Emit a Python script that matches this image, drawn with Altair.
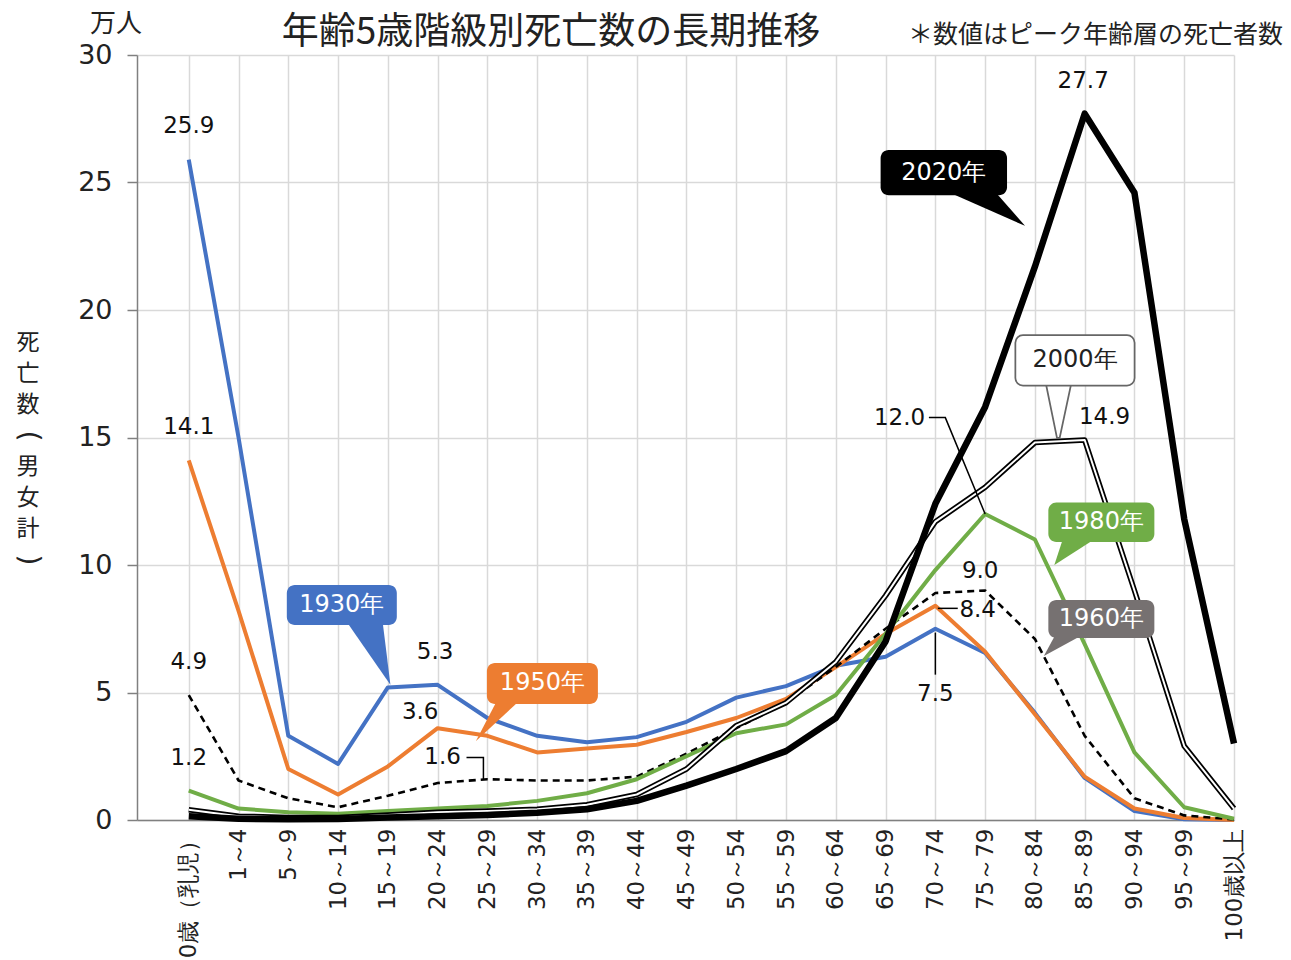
import json
import altair as alt
import pandas as pd

# ---------------- data ----------------
categories = ["0歳（乳児）", "1～4", "5～9", "10～14", "15～19", "20～24", "25～29",
              "30～34", "35～39", "40～44", "45～49", "50～54", "55～59", "60～64",
              "65～69", "70～74", "75～79", "80～84", "85～89", "90～94", "95～99", "100歳以上"]

v1930 = [25.9, 15.0, 3.3, 2.2, 5.2, 5.3, 4.0, 3.3, 3.05, 3.25, 3.85, 4.8, 5.25, 6.05,
         6.4, 7.5, 6.55, 4.2, 1.65, 0.35, 0.03, 0.0]
v1950 = [14.1, 8.2, 2.0, 1.0, 2.1, 3.6, 3.3, 2.65, 2.8, 2.95, 3.45, 4.0, 4.75, 6.0,
         7.3, 8.4, 6.6, 4.15, 1.7, 0.45, 0.08, 0.0]
v1960 = [4.9, 1.55, 0.85, 0.5, 0.95, 1.45, 1.6, 1.55, 1.55, 1.7, 2.6, 3.6, 4.6, 6.0,
         7.5, 8.9, 9.0, 7.1, 3.3, 0.85, 0.18, 0.02]
v1980 = [1.15, 0.45, 0.3, 0.25, 0.35, 0.45, 0.55, 0.75, 1.05, 1.6, 2.5, 3.4, 3.75, 4.9,
         7.3, 9.8, 12.0, 11.0, 6.9, 2.65, 0.5, 0.05]
v2000 = [0.4, 0.15, 0.1, 0.1, 0.2, 0.3, 0.35, 0.42, 0.6, 1.0, 2.0, 3.7, 4.6, 6.2,
         8.8, 11.7, 13.05, 14.8, 14.9, 9.0, 2.9, 0.45]
v2020 = [0.15, 0.05, 0.03, 0.04, 0.1, 0.15, 0.2, 0.28, 0.42, 0.75, 1.35, 2.0, 2.7, 4.0,
         7.0, 12.4, 16.2, 21.7, 27.7, 24.6, 11.8, 3.0]

series = {"1930年": v1930, "1950年": v1950, "1960年": v1960,
          "1980年": v1980, "2000年": v2000, "2020年": v2020}

rows = []
for name, vals in series.items():
    for i, v in enumerate(vals):
        rows.append({"series": name, "idx": i, "cat": categories[i], "value": v})
df = pd.DataFrame(rows)

# peak value annotations (text, x index, y value)
peak_labels = [("25.9", 0.0, 27.2), ("14.1", 0.0, 15.4), ("4.9", 0.0, 6.2), ("1.2", 0.0, 2.45),
               ("5.3", 4.95, 6.6), ("3.6", 4.65, 4.25), ("1.6", 5.1, 2.47),
               ("27.7", 17.97, 29.0), ("14.9", 18.4, 15.8), ("12.0", 14.28, 15.78),
               ("9.0", 15.9, 9.75), ("8.4", 15.85, 8.25), ("7.5", 15.0, 4.95)]

# leader lines: (group, [(x, y), ...])
leaders = [("l16", [(5.58, 2.45), (5.92, 2.45), (5.92, 1.6)]),
           ("l12", [(14.87, 15.78), (15.2, 15.78), (16.0, 12.0)]),
           ("l84", [(15.05, 8.3), (15.45, 8.3)]),
           ("l75", [(15.0, 7.35), (15.0, 5.7)])]

# callouts: name, box x1,x2,y1,y2, fill, text color, pointer base x1,x2 (at y1), tip x,y
callouts = [
    ("1930年", 1.97, 4.18, 7.65, 9.22, "#4472C4", "white", 3.2, 3.9, 4.05, 5.3),
    ("1950年", 5.99, 8.22, 4.55, 6.16, "#ED7D31", "white", 6.17, 6.6, 5.77, 3.1),
    ("1980年", 17.27, 19.4, 10.9, 12.45, "#70AD47", "white", 17.55, 18.15, 17.39, 10.0),
    ("1960年", 17.27, 19.4, 7.14, 8.63, "#767171", "white", 17.39, 17.89, 17.18, 6.43),
    ("2020年", 13.9, 16.44, 24.5, 26.27, "#000000", "white", 15.35, 16.24, 16.8, 23.3),
]
callout_2000 = ("2000年", 16.64, 18.97, 17.1, 18.95, 17.25, 17.7, 17.47, 15.05)

y_title_chars = ["死", "亡", "数", "(", "男", "女", "計", ")"]

# ---------------- scales / axes ----------------
JP = "Noto Sans CJK JP"
NUM = "DejaVu Sans"

XS = alt.Scale(domain=[-1.04, 21], nice=False, zero=False)
YS = alt.Scale(domain=[0, 30], nice=False, zero=True)

label_expr = "[" + ",".join(json.dumps(c, ensure_ascii=False) for c in categories) + "][datum.value]"

XAXIS = alt.Axis(values=list(range(len(categories))), labelExpr=label_expr, labelAngle=270,
                 labelFont=NUM, labelFontSize=23, labelColor="#222222", labelPadding=8,
                 labelFlush=False, labelOverlap=False, tickSize=0, grid=True,
                 gridColor="#d9d9d9", gridWidth=1.5, domainColor="#808080", domainWidth=1.5,
                 title=None)
YAXIS = alt.Axis(values=[0, 5, 10, 15, 20, 25, 30], labelFont=NUM, labelFontSize=27,
                 labelColor="#222222", tickSize=10, tickColor="#808080", tickWidth=1.5,
                 labelPadding=15, grid=True, gridColor="#d9d9d9", gridWidth=1.5,
                 domainColor="#808080", domainWidth=1.5, title=None)


def X(field):
    return alt.X(field, type="quantitative", scale=XS, axis=XAXIS, title=None)


def Y(field):
    return alt.Y(field, type="quantitative", scale=YS, axis=YAXIS, title=None)


base = alt.Chart(df)


def line_layer(name, **kw):
    return base.transform_filter(alt.datum.series == name).mark_line(
        strokeJoin="round", strokeCap="butt", **kw).encode(x=X("idx"), y=Y("value"))


layers = [
    line_layer("1930年", color="#4472C4", strokeWidth=4),
    line_layer("1950年", color="#ED7D31", strokeWidth=4),
    line_layer("1960年", color="#000000", strokeWidth=2.6, strokeDash=[7, 5]),
    line_layer("1980年", color="#70AD47", strokeWidth=4),
    line_layer("2000年", color="#000000", strokeWidth=5.5),
    line_layer("2000年", color="#ffffff", strokeWidth=2),
    line_layer("2020年", color="#000000", strokeWidth=6.5),
]

# leader lines
lrows = []
for g, pts in leaders:
    for k, (lx, ly) in enumerate(pts):
        lrows.append({"g": g, "o": k, "x": lx, "y": ly})
layers.append(alt.Chart(pd.DataFrame(lrows)).mark_line(color="#000000", strokeWidth=1.5).encode(
    x=X("x"), y=Y("y"), detail="g:N", order="o:Q"))

# peak labels
pl = pd.DataFrame(peak_labels, columns=["t", "x", "y"])
layers.append(alt.Chart(pl).mark_text(font=NUM, fontSize=23, color="#111111",
                                      baseline="middle", align="center").encode(
    x=X("x"), y=Y("y"), text="t:N"))

# callout pointers and boxes
prow, brow = [], []
for (nm, x1, x2, y1, y2, fill, tc, bx1, bx2, tx, ty) in callouts:
    prow.append({"n": nm, "y": y1 + 0.05, "x": bx1, "x2": bx2, "f": fill})
    prow.append({"n": nm, "y": ty, "x": tx, "x2": tx + 0.001, "f": fill})
    brow.append({"n": nm, "x": x1, "x2": x2, "y": y1, "y2": y2, "f": fill, "tc": tc,
                 "cx": (x1 + x2) / 2, "cy": (y1 + y2) / 2})
pdf = pd.DataFrame(prow)
bdf = pd.DataFrame(brow)
layers.append(alt.Chart(pdf).mark_area(orient="horizontal").encode(
    y=Y("y"), x=X("x"), x2="x2:Q", detail="n:N", fill=alt.Fill("f:N", scale=None)))
layers.append(alt.Chart(bdf).mark_rect(cornerRadius=8).encode(
    x=X("x"), x2="x2:Q", y=Y("y"), y2="y2:Q", fill=alt.Fill("f:N", scale=None)))
layers.append(alt.Chart(bdf).mark_text(font=NUM, fontSize=24, baseline="middle",
                                       align="center").encode(
    x=X("cx"), y=Y("cy"), text="n:N", color=alt.Color("tc:N", scale=None)))

# 2000 callout (double outline like its series)
nm, x1, x2, y1, y2, bx1, bx2, tx, ty = callout_2000
p2 = pd.DataFrame([{"n": nm, "y": y1 + 0.05, "x": bx1, "x2": bx2},
                   {"n": nm, "y": ty, "x": tx, "x2": tx + 0.001}])
b2 = pd.DataFrame([{"n": nm, "x": x1, "x2": x2, "y": y1, "y2": y2,
                    "cx": (x1 + x2) / 2, "cy": (y1 + y2) / 2}])
layers.append(alt.Chart(p2).mark_area(orient="horizontal", fill="white", stroke="#666666",
                                      strokeWidth=5).encode(y=Y("y"), x=X("x"), x2="x2:Q"))
layers.append(alt.Chart(p2).mark_area(orient="horizontal", fill="white", stroke="white",
                                      strokeWidth=1.5).encode(y=Y("y"), x=X("x"), x2="x2:Q"))
layers.append(alt.Chart(b2).mark_rect(cornerRadius=6, fill="white", stroke="#666666",
                                      strokeWidth=5).encode(x=X("x"), x2="x2:Q", y=Y("y"), y2="y2:Q"))
layers.append(alt.Chart(b2).mark_rect(cornerRadius=6, fill="white", stroke="white",
                                      strokeWidth=1.5).encode(x=X("x"), x2="x2:Q", y=Y("y"), y2="y2:Q"))
layers.append(alt.Chart(b2).mark_text(font=NUM, fontSize=24, color="#222222",
                                      baseline="middle", align="center").encode(
    x=X("cx"), y=Y("cy"), text="n:N"))

# ---------------- titles and texts outside the plot ----------------
one = pd.DataFrame({"a": [0]})
layers.append(alt.Chart(one).mark_text(text="年齢5歳階級別死亡数の長期推移", font=JP, fontSize=37,
                                       color="#222222", align="center", baseline="middle").encode(
    x=alt.value(414), y=alt.value(-22)))
layers.append(alt.Chart(one).mark_text(text="＊数値はピーク年齢層の死亡者数", font=JP, fontSize=25,
                                       color="#222222", align="right", baseline="middle").encode(
    x=alt.value(1146), y=alt.value(-20)))
layers.append(alt.Chart(one).mark_text(text="万人", font=JP, fontSize=26, color="#222222",
                                       align="center", baseline="middle").encode(
    x=alt.value(-21), y=alt.value(-31)))

# vertical y-axis title, one character per row; brackets turned 90 degrees
yt = pd.DataFrame({"c": y_title_chars,
                   "k": list(range(len(y_title_chars)))})
ytb = alt.Chart(yt).transform_calculate(
    py="288 + 31 * datum.k",
    br="(datum.c == '(' || datum.c == ')') ? 1 : 0",
)
layers.append(ytb.transform_filter(alt.datum.br == 0).mark_text(
    font=JP, fontSize=23, color="#222222", align="center", baseline="middle").encode(
    x=alt.value(-109), y=alt.Y("py:Q", scale=None), text="c:N"))
layers.append(ytb.transform_filter(alt.datum.br == 1).mark_text(
    font=NUM, fontSize=28, angle=90, color="#222222", align="center", baseline="middle").encode(
    x=alt.value(-109), y=alt.Y("py:Q", scale=None), text="c:N"))

chart = alt.layer(*layers).properties(
    width=1097, height=765,
    padding={"left": 137, "top": 55, "right": 57, "bottom": 140},
    autosize=alt.AutoSizeParams(type="none"),
    background="white",
).configure_view(stroke=None)

chart.save("out.html", embed_options={"renderer": "svg", "actions": False})
